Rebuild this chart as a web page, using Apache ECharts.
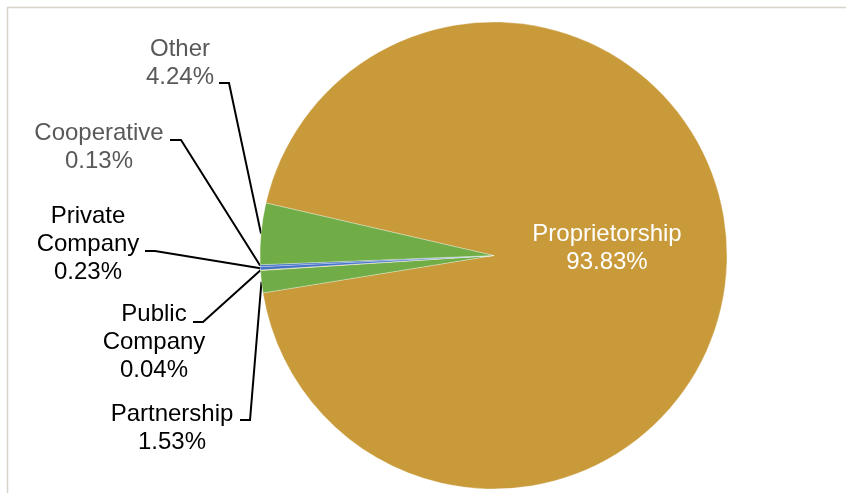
<!DOCTYPE html>
<html>
<head>
<meta charset="utf-8">
<script src="https://cdn.jsdelivr.net/npm/echarts@6/dist/echarts.min.js"></script>
<style>
  html, body { margin: 0; padding: 0; background: #fff; }
  #chart { width: 846px; height: 493px; }
</style>
</head>
<body>
<div id="chart"></div>
<script>
// data
const categories = ['Proprietorship', 'Partnership', 'Public Company', 'Private Company', 'Cooperative', 'Other']
const shares = [93.83, 1.53, 0.04, 0.23, 0.13, 4.24]

// styles
const sliceColors = ['#C89A3A', '#70AD47', '#FFC000', '#4472C4', '#4472C4', '#70AD47']
const labelColors = ['#ffffff', '#000000', '#000000', '#000000', '#595959', '#595959']
const labelNames = ['Proprietorship', 'Partnership', 'Public\nCompany', 'Private\nCompany', 'Cooperative', 'Other']

// label placement (text centre) and leader elbow, like the Excel layout
const labelSpots = [
  { x: 607, y: 248 },
  { x: 172, y: 428, elbow: [[250, 420], [240, 420]] },
  { x: 154, y: 342, elbow: [[203, 322], [193, 322]] },
  { x: 88, y: 244, elbow: [[155, 251], [145, 251]] },
  { x: 99, y: 147, elbow: [[181, 140], [170, 140]] },
  { x: 180, y: 63, elbow: [[229, 83], [219, 83]] }
]

const myChart = echarts.init(document.getElementById('chart'))

myChart.setOption({
  backgroundColor: '#fff',
  animation: false,
  graphic: [{
    type: 'rect',
    shape: { x: 7.5, y: 7.5, width: 1000, height: 700 },
    style: { fill: 'none', stroke: '#D9D4CC', lineWidth: 1.5 },
    silent: true
  }],
  series: [{
    type: 'pie',
    center: [493.5, 255.5],
    radius: 233.5,
    startAngle: 167,
    clockwise: true,
    avoidLabelOverlap: false,
    itemStyle: { borderColor: '#ffffff', borderWidth: 0.3 },
    label: {
      show: true,
      position: 'outside',
      fontFamily: 'Liberation Sans',
      fontSize: 24,
      lineHeight: 28,
      align: 'center',
      formatter: function (p) {
        return labelNames[p.dataIndex] + '\n' + shares[p.dataIndex].toFixed(2) + '%'
      }
    },
    labelLine: {
      show: true,
      lineStyle: { color: '#000000', width: 2 }
    },
    labelLayout: function (params) {
      const spot = labelSpots[params.dataIndex]
      const out = { x: spot.x, y: spot.y, align: 'center', verticalAlign: 'middle' }
      if (spot.elbow && params.labelLinePoints) {
        out.labelLinePoints = [params.labelLinePoints[0], spot.elbow[0], spot.elbow[1]]
      }
      return out
    },
    data: categories.map(function (name, i) {
      const item = {
        name: name,
        value: shares[i],
        itemStyle: { color: sliceColors[i] },
        label: { color: labelColors[i] }
      }
      if (i === 0) {
        item.labelLine = { show: false }
      }
      return item
    })
  }]
})
</script>
</body>
</html>
